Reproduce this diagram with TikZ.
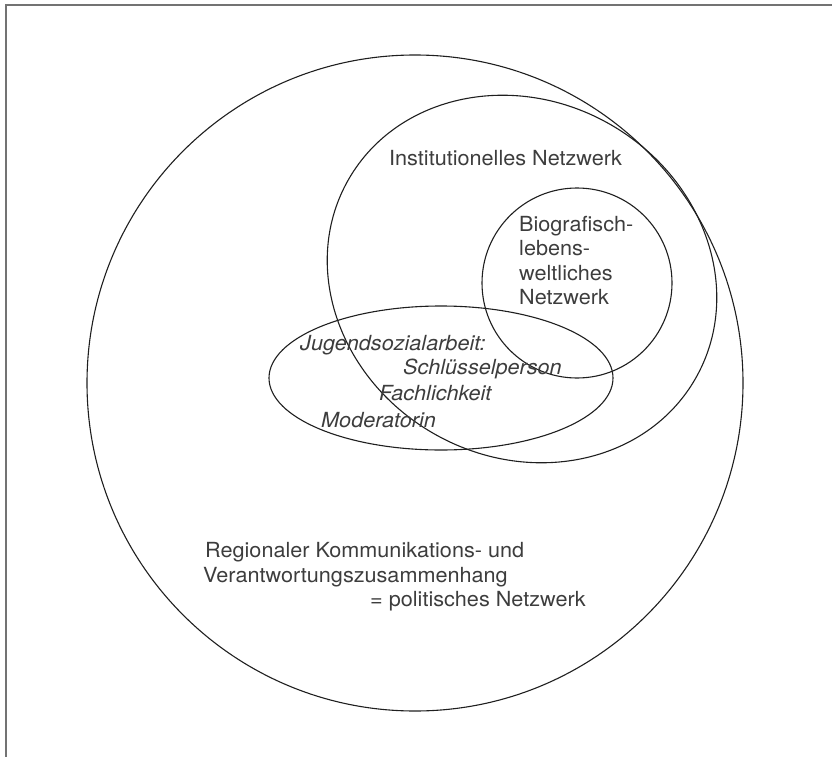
\documentclass[tikz,border=0pt]{standalone}
\usepackage{fontspec}
\setmainfont{TeX Gyre Heros}[FakeStretch=1.04]
\begin{document}
\begin{tikzpicture}[x=1pt,y=-1pt,
  ring/.style={draw=black!88, line width=1.1pt},
  frameline/.style={draw=black!55, line width=1.6pt},
  label/.style={inner sep=0pt, anchor=base west, text=black!76, font=\fontsize{20.8}{24.5}\selectfont},
  itlabel/.style={label, font=\fontsize{20.8}{24.5}\selectfont\itshape}]
\useasboundingbox (0,0) rectangle (832,757);
% frame lines along the top and left edge
\coordinate (ftl) at (6,5);
\coordinate (ftr) at (832,5);
\coordinate (fbl) at (6,757);
\draw[frameline] (fbl) -- (ftl) -- (ftr);

% centres of the network shapes
\coordinate (regional) at (415,383);
\coordinate (institution) at (522,279);
\coordinate (bio) at (577,283);
\coordinate (jugend) at (441,378);

\draw[ring] (regional) circle [radius=328];
\draw[ring, rotate around={-30:(institution)}] (institution) ellipse [x radius=200, y radius=178];
\draw[ring] (bio) circle [radius=95];
\draw[ring] (jugend) ellipse [x radius=172, y radius=72];

% labels
\node[label] (tinst) at (389,165) {Institutionelles Netzwerk};
\node[label, align=left, anchor=north west] (tbio) at (519,216) {Biografisch-\\lebens-\\weltliches\\Netzwerk};

\node[itlabel] (tj1) at (300,350) {Jugendsozialarbeit:};
\node[itlabel] (tj2) at (403,374) {Schlüsselperson};
\node[itlabel] (tj3) at (379,400) {Fachlichkeit};
\node[itlabel] (tj4) at (321,427) {Moderatorin};

\node[label] (tr1) at (205,557) {Regionaler Kommunikations- und};
\node[label] (tr2) at (203,582) {Verantwortungszusammenhang};
\node[label] (tr3) at (370,606) {= politisches Netzwerk};
\end{tikzpicture}
\end{document}
